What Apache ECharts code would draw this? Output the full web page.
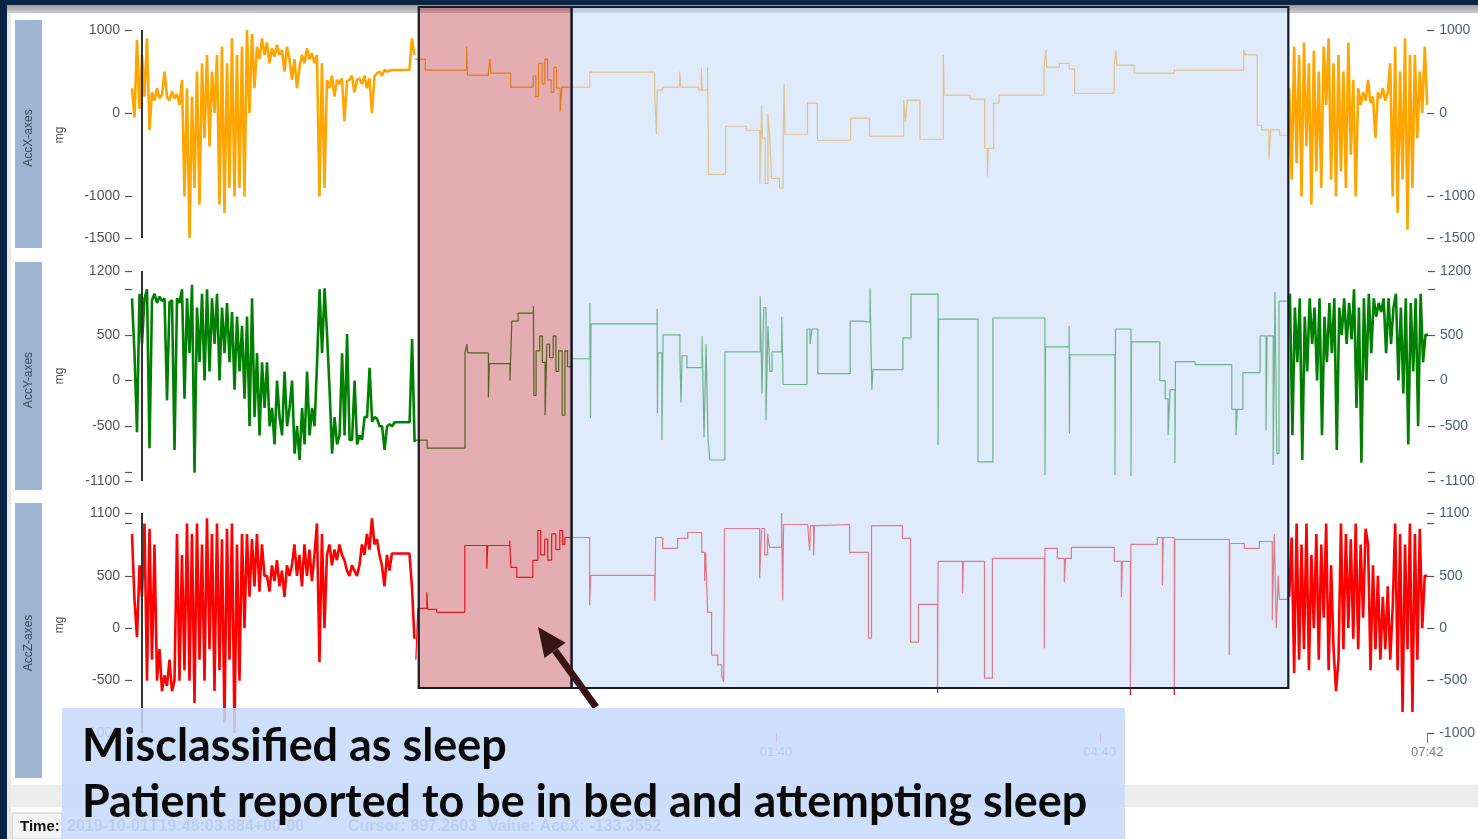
<!DOCTYPE html>
<html><head><meta charset="utf-8">
<script src="https://cdn.jsdelivr.net/npm/echarts@6/dist/echarts.min.js"></script>
<style>html,body{margin:0;padding:0;background:#fff;overflow:hidden}#c{width:1478px;height:839px}</style>
</head><body><div id="c"></div><script>
// ---------- DATA (time in minutes since 19:42) ----------
const xTickTimes = [358, 538, 720];
const xTickLabels = ['01:40', '04:40', '07:42'];
const cursorTime = 5.6;
const noiseLeftSpan = [0, 157];
const noiseRightSpan = [643.3, 720];
const misclassStart = 159.4, sleepStart = 244.4, sleepEnd = 642.8;

const seriesNames = ['AccX-axes', 'AccY-axes', 'AccZ-axes'];
const seriesColors = ['#FFA500', '#008000', '#FF0000'];
const yRanges = [[-1500, 1000], [-1100, 1200], [-1000, 1100]];
const yLabelValsLeft = [[1000, 0, -1000, -1500], [1200, 500, 0, -500, -1100], [1100, 500, 0, -500, -1000]];
const yTickVals = [[1000, 0, -1000, -1500], [1200, 1000, 500, 0, -500, -1000, -1100], [1100, 1000, 500, 0, -500, -1000]];

// AccX
const noiseLeftX = [300,-50,880,50,700, 200,900,-200,
 250,150,300,180,220,500,200,150,260,180,230,100,
 400,-1000,300,-1500,200,-900,500,-1100,
 600,-300,700,-400,500,0,
 700,-1100,800,-1200,600,-900,900,-1000,
 700,-900,800,-1000,
 1000,0,950,300,
 800,650,900,700,850,600,780,680,820,700,760,500,800,650,
 400,650,300,550,
 700,600,780,650,720,600,
 700,-1000,600,-900,
 400,300,450,200,400,350,420,-100,380,400,450,250,400,420,
 350,450,300,420,0,440,
 480,500,450,520,500,510,520,520,520,520,520,520,520,520,
 900,700];
const stepTX = [157,163,186,186.5,198,199,199.5,210.5,223,224.5,226,228,229.5,231,233,234.5,236,238,239,254.5,290.5,291.5,292,295,304.5,305,315,316.5,317,320,320.5,330,341.5,349,350,350.5,352,353.5,354.5,355.5,360,362,362.5,363,375.5,381,399.5,410,429,430,431,438,451,451.5,466,474,475.5,476,479,482,507,508,508.5,515.5,521,524,546,547,547.5,557,579.5,618,619,625.5,628,632,633,638,643];
const stepVX = [650,518,800,458,482,650,482,313,450,200,600,350,650,400,250,550,300,20,313,494,277,-253,277,313,500,313,277,550,277,550,-735,-157,-205,-845,100,-300,-845,0,-300,-783,-900,-253,350,-253,120,-325,-60,-277,157,-100,157,-313,700,217,170,-421,-760,-421,120,217,554,760,554,600,530,240,578,750,578,482,518,760,700,-145,-200,-560,-200,-265,-265];
const noiseRightX = [300,-800,800,-600,700,-1000,850,-400,600,-1100,750,-700,500,-900,800,100,
 900,-800,600,-1000,700,-700,500,-900,850,-500,400,-1000,
 300,100,250,150,400,120,200,-300,250,180,300,150,250,
 600,-1000,800,-1200,500,-800,900,-1400,700,-900,
 700,-300,500,0,800,100];

// AccY
const noiseLeftY = [900,300,-565,950,400,
 900,1000,-740,880,950,850,920,
 870,900,-217,860,880,-760,900,850,
 1000,-200,900,300,1050,-1010,800,200,950,0,
 1000,100,900,400,950,0,800,300,850,200,750,-100,700,100,600,-200,
 700,-500,900,-400,300,-600,200,-300,
 200,-500,-300,-700,0,-400,-600,100,-500,-300,
 0,-800,-500,-870,-300,-700,
 100,-600,-300,-500,200,
 1000,300,1010,500,
 -100,-800,-400,-700,-600,
 300,-600,510,-650,
 -650,0,-700,-600,-650,-400,
 -400,141,-450,-400,-420,-500,
 -500,-760,-500,-480,-500,
 -456,-456,-456,-456,-456,-456,-456,
 456,-674];
const stepTY = [157,164,185,186,186.5,198,198.5,210,211,214.5,223,223.3,224.5,226.5,228,229.5,230.5,232,234,235.5,237,239,240.5,242,244.5,254.4,254.7,255,291.7,291.9,292.2,294.4,295,304.4,305,305.6,308.3,316.7,317.8,318.9,320,321,329.4,349,350,351,352.2,353.3,354.4,355.6,361,361.7,375,376.7,377.8,381,399,405.6,410,411,411.7,428.3,432.8,447.8,448.1,470,478.3,507.2,507.5,520.6,520.8,521.1,546.1,546.4,555,555.3,571,574,575.6,576.7,579.4,579.7,590.6,611,613.3,614,617.2,626.7,630,630.6,634,635,636,637.2,643];
const stepVY = [-652,-739,304,400,304,-185,185,0,652,739,815,-163,326,489,200,-380,400,250,489,100,326,-380,326,150,239,848,-413,620,783,-359,304,-650,500,272,-239,272,141,489,-620,400,-620,-870,315,924,-141,800,-435,600,100,315,700,-43,565,400,565,76,652,641,1011,-100,120,467,946,-706,674,-891,685,-1033,370,600,-580,283,-1033,565,-1044,424,0,-200,-600,-100,-903,207,174,-315,-600,-315,87,489,-543,489,-924,970,-800,870,870];
const noiseRightY = [950,-600,800,200,900,-870,700,100,900,
 400,800,0,900,-600,700,200,850,
 300,900,-761,800,
 500,900,400,850,450,
 1000,-300,800,-900,900,0,950,300,
 900,700,850,750,900,
 300,900,400,800,
 950,0,800,-141,900,-700,850,100,900,-500,950,200,
 500,500];

// AccZ
const noiseLeftZ = [900,267,-86,600,300,
 1000,-500,950,-300,800,
 -500,-200,-600,-450,-550,-300,-600,-500,
 900,-500,700,-400,
 1000,-500,900,-714,1000,-300,800,-500,1050,-200,900,-600,1000,-400,850,-900,950,-300,1000,-1000,800,-500,900,0,
 900,300,850,400,900,350,800,500,
 500,350,600,450,650,400,550,300,600,500,
 600,800,500,700,
 400,800,500,750,450,700,
 1000,-324,900,0,
 700,800,600,750,650,800,700,650,
 550,500,600,550,500,600,
 800,700,900,750,1050,800,850,700,
 600,400,700,550,
 714,714,714,714,714,714,714,714,
 400,-100];
const stepTZ = [157.8,158.9,163.9,164.4,169.4,185,197.2,197.8,210,210.6,213.9,222.8,225.6,227.2,229.4,231.1,233.3,235.6,237.8,239.4,240.6,254.4,255,290.6,291.1,295,303.3,308.9,316.7,318.3,318.9,320,322.2,325.6,327.8,328.9,329.4,348.9,350,351.7,353.3,354.4,361.1,361.7,362.2,375.6,376.7,377.2,378.9,379.4,381.1,398.9,409.4,411.1,428.3,432.8,437.2,447.8,448.1,461.7,462.2,473.9,478.3,507.2,507.5,514.4,518.3,518.9,522.2,546.1,550,550.6,555,555.3,570,572.8,573.3,579.4,579.7,610,610.3,618.3,626.7,633.9,635,636.1,637.2,637.8,643];
const stepVZ = [-300,190,343,181,152,790,571,790,838,581,486,647,933,700,850,650,900,750,933,800,866,219,505,266,866,762,857,914,724,450,724,152,-257,-350,-450,-514,952,476,950,700,900,771,1100,267,990,980,743,980,695,980,990,724,-95,980,857,-133,228,-619,638,333,638,-476,666,-190,762,666,438,666,771,638,295,638,-638,800,866,410,866,-638,847,-257,809,762,828,76,900,0,500,276,276];
const noiseRightZ = [300,866,-428,1000,-300,800,-200,
 1000,-400,700,0,900,-300,800,100,1000,-400,600,
 -200,-600,-300,
 1000,-200,900,0,850,-100,1000,-200,800,100,950,
 800,-400,600,-200,
 500,-300,300,-200,400,-300,200,
 1000,-400,900,-800,800,-200,1000,-800,900,-300,950,0,
 500,500];

const noteLine1 = 'Misclassified as sleep';
const noteLine2 = 'Patient reported to be in bed and attempting sleep';
const statusTime = '2019-10-01T19:48:03.884+00:00';
const statusCursor = 'Cursor: 897.2603';
const statusValue = 'Value: AccX: -133.3552';

// ---------- BUILD ----------
const noiseL = [noiseLeftX, noiseLeftY, noiseLeftZ];
const noiseR = [noiseRightX, noiseRightY, noiseRightZ];
const stepT = [stepTX, stepTY, stepTZ];
const stepV = [stepVX, stepVY, stepVZ];
function spread(vals, span) { return vals.map((v, i) => [span[0] + i * (span[1] - span[0]) / (vals.length - 1), v]); }
function pairs(ts, vs) { return ts.map((t, i) => [t, vs[i]]); }

const gridBoxes = [{ top: 30, height: 208 }, { top: 271, height: 210 }, { top: 513, height: 220 }];
const chart = echarts.init(document.getElementById('c'), null, { renderer: 'canvas' });

const grid = [], xAxis = [], yAxis = [], series = [];
for (let i = 0; i < 3; i++) {
  grid.push({ left: 132, right: 50, top: gridBoxes[i].top, height: gridBoxes[i].height });
  const isLast = i === 2;
  xAxis.push({
    type: 'value', gridIndex: i, min: 0, max: 720, show: true, position: 'bottom',
    axisLine: { show: false, onZero: false }, splitLine: { show: false },
    axisTick: { show: isLast, length: 10, customValues: xTickTimes, lineStyle: { color: '#ff4040', width: 1 } },
    axisLabel: { show: isLast, customValues: xTickTimes, margin: 13, color: '#7a7a7a', fontSize: 13, fontFamily: 'Liberation Sans',
      formatter: v => { const k = xTickTimes.indexOf(Math.round(v)); return k >= 0 ? xTickLabels[k] : ''; } }
  });
  const common = {
    type: 'value', gridIndex: i, min: yRanges[i][0], max: yRanges[i][1],
    axisLine: { show: false, onZero: false }, splitLine: { show: false },
    axisTick: { show: true, length: 7, customValues: yTickVals[i], lineStyle: { color: '#555', width: 1.2 } }
  };
  yAxis.push(Object.assign({}, common, { position: 'left',
    axisLabel: { customValues: yLabelValsLeft[i], margin: 12, color: '#555', fontSize: 14, fontFamily: 'Liberation Sans', formatter: v => String(v) } }));
  yAxis.push(Object.assign({}, common, { position: 'right',
    axisLabel: { customValues: yLabelValsLeft[i], margin: 12, color: '#4a5f78', fontSize: 14, fontFamily: 'Liberation Sans', formatter: v => String(v) } }));
  const base = { type: 'line', xAxisIndex: i, yAxisIndex: 2 * i, showSymbol: false, symbol: 'none', animation: false,
    itemStyle: { color: seriesColors[i] }, z: 2 };
  series.push(Object.assign({}, base, { name: seriesNames[i] + '-a', data: spread(noiseL[i], noiseLeftSpan),
    lineStyle: { width: 2.6, color: seriesColors[i], join: 'bevel' },
    markLine: { symbol: ['none', 'none'], silent: true, animation: false, label: { show: false },
      lineStyle: { color: '#333', width: 2, type: 'solid' }, data: [{ xAxis: cursorTime }] } }));
  series.push(Object.assign({}, base, { name: seriesNames[i] + '-b', step: 'end', data: pairs(stepT[i], stepV[i]),
    lineStyle: { width: 1.2, color: seriesColors[i] } }));
  series.push(Object.assign({}, base, { name: seriesNames[i] + '-c', data: spread(noiseR[i], noiseRightSpan),
    lineStyle: { width: 2.6, color: seriesColors[i], join: 'bevel' } }));
}

chart.setOption({ animation: false, backgroundColor: '#ffffff', grid, xAxis, yAxis, series });

// ---------- ANNOTATIONS ----------
const px = t => chart.convertToPixel({ xAxisIndex: 0 }, t);
const xr0 = px(misclassStart), xr1 = px(sleepStart), xb1 = px(sleepEnd);

const cv = document.createElement('canvas').getContext('2d');
cv.font = 'bold 40px Lato';
const noteSize = 40 * 1006 / cv.measureText(noteLine2).width;

const labelBoxes = [[20, 248], [262, 490], [503, 778]];
const labelCenters = [138, 380, 643];
const mgCenters = [135, 376, 625];
const g = [];
// window chrome
g.push({ type: 'rect', shape: { x: 0, y: 0, width: 1478, height: 5 }, style: { fill: '#0b2444' }, z: 50 });
g.push({ type: 'rect', shape: { x: 0, y: 0, width: 7, height: 839 }, style: { fill: '#0b2444' }, z: 50 });
g.push({ type: 'rect', shape: { x: 7, y: 5, width: 1471, height: 8 },
  style: { fill: new echarts.graphic.LinearGradient(0, 0, 0, 1, [{ offset: 0, color: '#9c9c9c' }, { offset: 1, color: '#cfcfcf' }]) }, z: 1 });
g.push({ type: 'rect', shape: { x: 7, y: 13, width: 4, height: 826 }, style: { fill: '#e8e8e8' }, z: 1 });
for (let i = 0; i < 3; i++) {
  g.push({ type: 'rect', shape: { x: 15, y: labelBoxes[i][0], width: 27, height: labelBoxes[i][1] - labelBoxes[i][0] }, style: { fill: '#9db5d3' }, z: 1 });
  g.push({ type: 'text', x: 29, y: labelCenters[i], rotation: Math.PI / 2, z: 3,
    style: { text: seriesNames[i], fill: '#3b4857', font: '12px "Liberation Sans"', align: 'center', verticalAlign: 'middle' } });
  g.push({ type: 'text', x: 60, y: mgCenters[i], rotation: Math.PI / 2, z: 3,
    style: { text: 'mg', fill: '#555', font: '12px "Liberation Sans"', align: 'center', verticalAlign: 'middle' } });
}
// scroll band + status bar
g.push({ type: 'rect', shape: { x: 11, y: 785, width: 1467, height: 22 }, style: { fill: '#ededed' }, z: 1 });
g.push({ type: 'rect', shape: { x: 12, y: 813, width: 50, height: 26 }, style: { fill: '#f4f4f4', stroke: '#c8c8c8', lineWidth: 1 }, z: 1 });
g.push({ type: 'text', x: 20, y: 827, z: 3, style: { text: 'Time:', fill: '#111', font: 'bold 15px "Liberation Sans"', verticalAlign: 'middle' } });
g.push({ type: 'text', x: 67, y: 827, z: 3, style: { text: statusTime, fill: '#8a8a8a', font: 'bold 16px "Liberation Sans"', verticalAlign: 'middle' } });
g.push({ type: 'text', x: 348, y: 827, z: 3, style: { text: statusCursor, fill: '#8a8a8a', font: 'bold 16px "Liberation Sans"', verticalAlign: 'middle' } });
g.push({ type: 'text', x: 488, y: 827, z: 3, style: { text: statusValue, fill: '#8a8a8a', font: 'bold 16px "Liberation Sans"', verticalAlign: 'middle' } });
// highlight rectangles
g.push({ type: 'rect', z: 100, shape: { x: xr0, y: 7, width: xr1 - xr0, height: 681 },
  style: { fill: 'rgba(190,60,72,0.42)', stroke: '#141a26', lineWidth: 2.2 } });
g.push({ type: 'rect', z: 100, shape: { x: xr1, y: 7, width: xb1 - xr1, height: 681 },
  style: { fill: 'rgba(198,218,248,0.56)', stroke: '#141a26', lineWidth: 2.2 } });
// arrow
const tip = [538, 627], tail = [596, 707];
const dx = tip[0] - tail[0], dy = tip[1] - tail[1], L = Math.hypot(dx, dy);
const ux = dx / L, uy = dy / L, nx = -uy, ny = ux;
const headLen = 29, headHalf = 13;
const bx = tip[0] - headLen * ux, by = tip[1] - headLen * uy;
g.push({ type: 'line', z: 110, shape: { x1: tail[0], y1: tail[1], x2: bx, y2: by }, style: { stroke: '#3a1414', lineWidth: 7 } });
g.push({ type: 'polygon', z: 110, shape: { points: [tip, [bx + headHalf * nx, by + headHalf * ny], [bx - headHalf * nx, by - headHalf * ny]] }, style: { fill: '#3a1414' } });
// note box
g.push({ type: 'rect', z: 120, shape: { x: 62, y: 708, width: 1063, height: 131 }, style: { fill: 'rgba(198,218,250,0.86)' } });
g.push({ type: 'text', z: 121, x: 82, y: 747, style: { text: noteLine1, fill: '#0a0a0a', font: 'bold ' + noteSize.toFixed(1) + 'px Lato', verticalAlign: 'middle' } });
g.push({ type: 'text', z: 121, x: 82, y: 803, style: { text: noteLine2, fill: '#0a0a0a', font: 'bold ' + noteSize.toFixed(1) + 'px Lato', verticalAlign: 'middle' } });

chart.setOption({ graphic: { elements: g } });
</script></body></html>
